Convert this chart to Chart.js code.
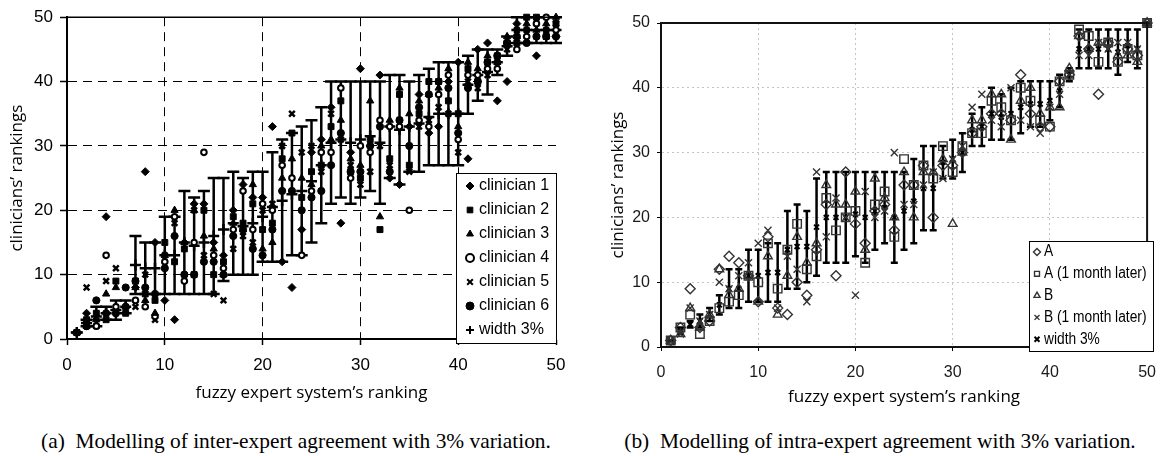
<!DOCTYPE html>
<html>
<head>
<meta charset="utf-8">
<script src="https://cdn.jsdelivr.net/npm/chart.js@4.4.1/dist/chart.umd.min.js"></script>
<style>
  html, body { margin: 0; padding: 0; background: #fff; }
  body { width: 1168px; height: 456px; position: relative; overflow: hidden; }
  #inter { position: absolute; left: 0; top: 0; }
  #intra { position: absolute; left: 585px; top: 0; }
  .cap { position: absolute; top: 429px; width: 580px; text-align: center; white-space: nowrap;
         font: 21.4px 'Liberation Serif', 'Times New Roman', serif; line-height: 24px; color: #000; }
</style>
</head>
<body>
<canvas id="inter" width="580" height="410"></canvas>
<canvas id="intra" width="583" height="415"></canvas>
<div class="cap" style="left:6px">(a)&nbsp; Modelling of inter-expert agreement with 3% variation.</div>
<div class="cap" style="left:590px">(b)&nbsp; Modelling of intra-expert agreement with 3% variation.</div>

<script>
/* ─── Data ───────────────────────────────────────────────────── */
const ranking = [1,2,3,4,5,6,7,8,9,10,11,12,13,14,15,16,17,18,19,20,
                 21,22,23,24,25,26,27,28,29,30,31,32,33,34,35,36,37,38,39,40,
                 41,42,43,44,45,46,47,48,49,50];
const axisTicks = [0, 10, 20, 30, 40, 50];

// (a) inter-expert: six clinicians + 3% band
const clinician1 = [1,4,3,19,4,5,8,26,15,6,3,15,21,21,15,13,20,24,22,22,
                    33,12,8,17,29,31,36,18,29,42,30,41,25,24,33,38,32,33,40,43,
                    28,45,46,37,40,49,48,44,48,47];
const clinician2 = [1,3,4,3,9,4,9,7,6,15,12,14,10,20,10,12,19,18,21,17,
                    18,28,32,22,26,27,33,37,26,25,31,17,28,38,27,35,40,40,37,35,
                    42,40,43,44,46,46,50,50,47,49];
const clinician3 = [1,2,3,7,8,5,8,6,4,13,20,15,20,16,14,10,18,17,24,14,
                    15,25,28,25,24,30,31,34,28,27,37,19,34,39,35,37,38,39,42,33,
                    43,42,44,43,47,47,49,48,49,50];
const clinician4 = [1,2,2,13,5,5,6,5,3.5,12,19,9,15,29,13,11,17,23,17,21,
                    20,27,25,13,23,29,29,39,25,30,29,34,33,33,20,34,33,38,41,31,
                    41,41,42,42,46,45,47,49,50,48];
const clinician5 = [1,8,2,9,11,5,5,10,3,13,18,10,20,13,7,6,14,16,15,20,
                    21,30,35,29,30,26,35,31,27,24,26,30,27,34,26,33,34,36,35,29,
                    40,39,41,43,45,48,48,47,48,49];
const clinician6 = [1,2,6,4,4,8,9,8,7,11,16,10,10,12,12,10,16,17,14,13,
                    17,23,23,20,22,23,27,32,26,26,30,33,26,34,30,36,38,40,39,32,
                    39,40,43,44,46,47,46,47,47,47];
const interLow  = [1,2,2,3,3,4,7,7,7,7,7,7,7,7,7,9,10,10,10,12,
                   12,12,13,13,15,18,21,22,21,22,23,21,25,24,26,26,27,27,27,27,
                   35,37,38,41,44,46,46,46,46,46];
const interHigh = [1,3,5,5,6,6,16,15,15,19,19,23,22,23,25,25,26,25,26,26,
                   29,31,32,33,34,36,40,40,40,40,40,40,41,41,40,41,42,43,43,43,
                   44,45,45,45,47,50,50,50,50,50];

// (b) intra-expert: two raters, twice each + 3% band
const raterA  = [1,3,9,3,4,12,14,13,11,7,17,6,5,10,8,15,22,11,27,19,
                 16,21,22,18,25,25,28,20,28,28,30,33,34,36,36,35,42,36,34,34,
                 41,42,48,46,39,47,44,46,45,50];
const raterA2 = [1,3,5,2,4,6,7,8,11,10,16,9,15,19,12,14,23,18,20,21,
                 13,22,24,17,29,25,28,26,31,27,31,33,33,38,37,35,40,38,35,34,
                 41,42,49,48,44,47,44,46,45,50];
const raterB  = [1,2,6,3,5,12,8,9,11,7,14,5,11,17,13,16,25,22,22,24,
                 15,26,23,20,27,20,27,27,29,19,30,35,35,39,39,32,38,40,36,37,
                 37,43,48,46,47,47,45,45,44,50];
const raterB2 = [1,2,6,4,5,10,9,11,13,16,18,6,14,12,7,27,17,23,20,8,
                 24,20,21,30,22,22,25,27,26,29,31,37,39,35,34,40,35,34,33,37,
                 39,42,45,45,47,46,47,47,46,50];
const intraLow  = [1,2,3,3,4,5,6,6,7,7,7,7,9,9,10,11,13,13,13,14,
                   13,15,16,13,15,16,18,18,26,26,27,31,31,32,32,32,33,34,34,35,
                   37,41,43,43,43,43,42,44,43,50];
const intraHigh = [1,3,4,5,6,8,12,12,15,15,16,16,21,22,21,26,27,27,27,27,
                   27,27,27,27,27,29,31,31,31,32,33,36,37,40,39,40,41,41,41,41,
                   42,43,49,49,49,49,49,49,49,50];

/* ─── helpers ─────────────────────────────────────────────────── */
Chart.defaults.font.family = "'Liberation Sans', Arial, sans-serif";
Chart.defaults.color = '#000';

const pts = ys => ranking.map((x, i) => ({ x, y: ys[i] }));
const mids = (lo, hi) => ranking.map((x, i) => ({ x, y: (lo[i] + hi[i]) / 2 }));

function series(label, data, style, radius, fill, stroke, lw) {
  return {
    label, data, showLine: false, clip: false,
    pointStyle: style, pointRadius: radius, pointHoverRadius: radius,
    pointBackgroundColor: fill, pointBorderColor: stroke, pointBorderWidth: lw,
    backgroundColor: fill, borderColor: stroke, borderWidth: lw
  };
}

// vertical bars with caps, drawn through the chart's own scales
function errorBars(low, high, cap, width) {
  return {
    id: 'errorBars',
    beforeDatasetsDraw(chart) {
      const { ctx, scales: { x, y } } = chart;
      ctx.save();
      ctx.strokeStyle = '#000';
      ctx.lineWidth = width;
      ranking.forEach((r, i) => {
        const px = x.getPixelForValue(r);
        const y1 = y.getPixelForValue(low[i]);
        const y2 = y.getPixelForValue(high[i]);
        ctx.beginPath();
        ctx.moveTo(px, y1); ctx.lineTo(px, y2);
        ctx.moveTo(px - cap, y1); ctx.lineTo(px + cap, y1);
        ctx.moveTo(px - cap, y2); ctx.lineTo(px + cap, y2);
        ctx.stroke();
      });
      ctx.restore();
    }
  };
}

// boxed legend inside the plot (squeeze = horizontal text scale)
function boxLegend(box, font, r, squeeze) {
  return {
    id: 'boxLegend',
    afterDraw(chart) {
      const ctx = chart.ctx;
      ctx.save();
      ctx.fillStyle = '#fff';
      ctx.fillRect(box.x, box.y, box.w, box.h);
      ctx.strokeStyle = '#000';
      ctx.lineWidth = 1;
      ctx.strokeRect(box.x + 0.5, box.y + 0.5, box.w, box.h);
      ctx.font = font;
      ctx.textBaseline = 'middle';
      chart.data.datasets.forEach((ds, i) => {
        const cy = box.y + box.first + i * box.row;
        ctx.fillStyle = ds.backgroundColor;
        ctx.strokeStyle = ds.borderColor;
        ctx.lineWidth = Math.min(ds.borderWidth, 2);
        Chart.helpers.drawPoint(ctx, { pointStyle: ds.pointStyle, radius: r, borderWidth: ds.borderWidth, rotation: 0 },
                                box.x + box.mark, cy);
        ctx.save();
        ctx.translate(box.x + box.text, cy);
        ctx.scale(squeeze, 1);
        ctx.fillStyle = '#000';
        ctx.fillText(ds.label, 0, 0);
        ctx.restore();
      });
      ctx.restore();
    }
  };
}

const topLine = {
  id: 'topLine',
  afterDraw(chart) {
    const { ctx, chartArea: a } = chart;
    ctx.save();
    ctx.strokeStyle = '#000'; ctx.lineWidth = 1.5;
    ctx.beginPath(); ctx.moveTo(a.left, a.top); ctx.lineTo(a.right, a.top); ctx.stroke();
    ctx.restore();
  }
};

const frame = {
  id: 'frame',
  afterDraw(chart) {
    const { ctx, chartArea: a } = chart;
    ctx.save();
    ctx.strokeStyle = '#111'; ctx.lineWidth = 2;
    ctx.strokeRect(a.left, a.top, a.right - a.left, a.bottom - a.top);
    ctx.restore();
  }
};

const setTicks = s => { s.ticks = axisTicks.map(v => ({ value: v })); };
const inner = (c, col) => (c.tick && c.tick.value > 0 && c.tick.value < 50) ? col : 'rgba(0,0,0,0)';

/* ─── (a) inter-expert chart ─────────────────────────────────── */
new Chart(document.getElementById('inter'), {
  type: 'scatter',
  data: {
    datasets: [
      series('clinician 1', pts(clinician1), 'rectRot', 4, '#000', '#000', 1),
      series('clinician 2', pts(clinician2), 'rect', 4.2, '#000', '#000', 1),
      series('clinician 3', pts(clinician3), 'triangle', 4.2, '#000', '#000', 1),
      series('clinician 4', pts(clinician4), 'circle', 2.8, '#fff', '#000', 2),
      series('clinician 5', pts(clinician5), 'crossRot', 4, '#000', '#000', 2.5),
      series('clinician 6', pts(clinician6), 'circle', 3.6, '#000', '#000', 1),
      series('width 3%', mids(interLow, interHigh), 'cross', 5.5, '#000', '#000', 2.5)
    ]
  },
  options: {
    responsive: false, animation: false, devicePixelRatio: 1,
    layout: { padding: { left: 0, right: 24, top: 17, bottom: 0 } },
    plugins: { legend: { display: false }, tooltip: { enabled: false } },
    scales: {
      x: {
        type: 'linear', min: 0, max: 50,
        afterBuildTicks: setTicks,
        afterFit: s => { s.height = 71; },
        ticks: { font: { size: 17 }, padding: 10, maxRotation: 0, autoSkip: false },
        grid: { color: c => inner(c, '#000'), lineWidth: 1, tickColor: '#000', tickLength: 6, tickWidth: 1.5 },
        border: { color: '#000', width: 2, dash: [9, 6] },
        title: { display: true, text: 'fuzzy expert system’s ranking', color: '#000',
                 font: { family: "'Open Sans', sans-serif", size: 17 }, padding: { top: 0, bottom: 7 } }
      },
      y: {
        type: 'linear', min: 0, max: 50,
        afterBuildTicks: setTicks,
        afterFit: s => { s.width = 67; },
        ticks: { font: { size: 17 }, padding: 7 },
        grid: { color: c => inner(c, '#000'), lineWidth: 1, tickColor: '#000', tickLength: 7, tickWidth: 1.5 },
        border: { color: '#000', width: 2, dash: [9, 6] },
        title: { display: true, text: 'clinicians’ rankings', color: '#000',
                 font: { family: "'Open Sans', sans-serif", size: 17 }, padding: { top: 7, bottom: 0 } }
      }
    }
  },
  plugins: [
    errorBars(interLow, interHigh, 6, 2.5),
    topLine,
    boxLegend({ x: 456, y: 173, w: 100, h: 170, first: 13, row: 24, mark: 14, text: 23 }, "16px 'Liberation Sans'", 4, 1)
  ]
});

/* ─── (b) intra-expert chart ─────────────────────────────────── */
const grey = '#333';
new Chart(document.getElementById('intra'), {
  type: 'scatter',
  data: {
    datasets: [
      series('A', pts(raterA), 'rectRot', 5, 'rgba(255,255,255,0)', grey, 1.4),
      series('A (1 month later)', pts(raterA2), 'rect', 6, 'rgba(255,255,255,0)', grey, 1.4),
      series('B', pts(raterB), 'triangle', 5, 'rgba(255,255,255,0)', grey, 1.4),
      series('B (1 month later)', pts(raterB2), 'crossRot', 5, grey, grey, 1.4),
      series('width 3%', mids(intraLow, intraHigh), 'crossRot', 3.5, '#000', '#000', 2)
    ]
  },
  options: {
    responsive: false, animation: false, devicePixelRatio: 1,
    layout: { padding: { left: 0, right: 14, top: 23, bottom: 0 } },
    plugins: { legend: { display: false }, tooltip: { enabled: false } },
    scales: {
      x: {
        type: 'linear', min: 0, max: 50,
        afterBuildTicks: setTicks,
        afterFit: s => { s.height = 68; },
        ticks: { font: { size: 16 }, color: '#1a1a1a', padding: 12, maxRotation: 0, autoSkip: false },
        grid: { color: c => inner(c, '#c4c4c4'), lineWidth: 1, tickColor: '#000', tickLength: 4, tickWidth: 1 },
        border: { color: '#111', width: 2, dash: [2, 3] },
        title: { display: true, text: 'fuzzy expert system’s ranking', color: '#000',
                 font: { family: "'Open Sans', sans-serif", size: 17 }, padding: { top: 0, bottom: 8 } }
      },
      y: {
        type: 'linear', min: 0, max: 50,
        afterBuildTicks: setTicks,
        afterFit: s => { s.width = 76; },
        ticks: { font: { size: 16 }, color: '#1a1a1a', padding: 7 },
        grid: { color: c => inner(c, '#c4c4c4'), lineWidth: 1, tickColor: '#000', tickLength: 4, tickWidth: 1 },
        border: { color: '#111', width: 2, dash: [2, 3] },
        title: { display: true, text: 'clinicians’ rankings', color: '#000',
                 font: { family: "'Open Sans', sans-serif", size: 17 }, padding: { top: 23, bottom: 0 } }
      }
    }
  },
  plugins: [
    errorBars(intraLow, intraHigh, 3.5, 2.5),
    frame,
    boxLegend({ x: 444, y: 241, w: 124, h: 110, first: 11, row: 21.8, mark: 8, text: 15 },
              "16px 'Liberation Sans'", 3.5, 0.86)
  ]
});
</script>
</body>
</html>
